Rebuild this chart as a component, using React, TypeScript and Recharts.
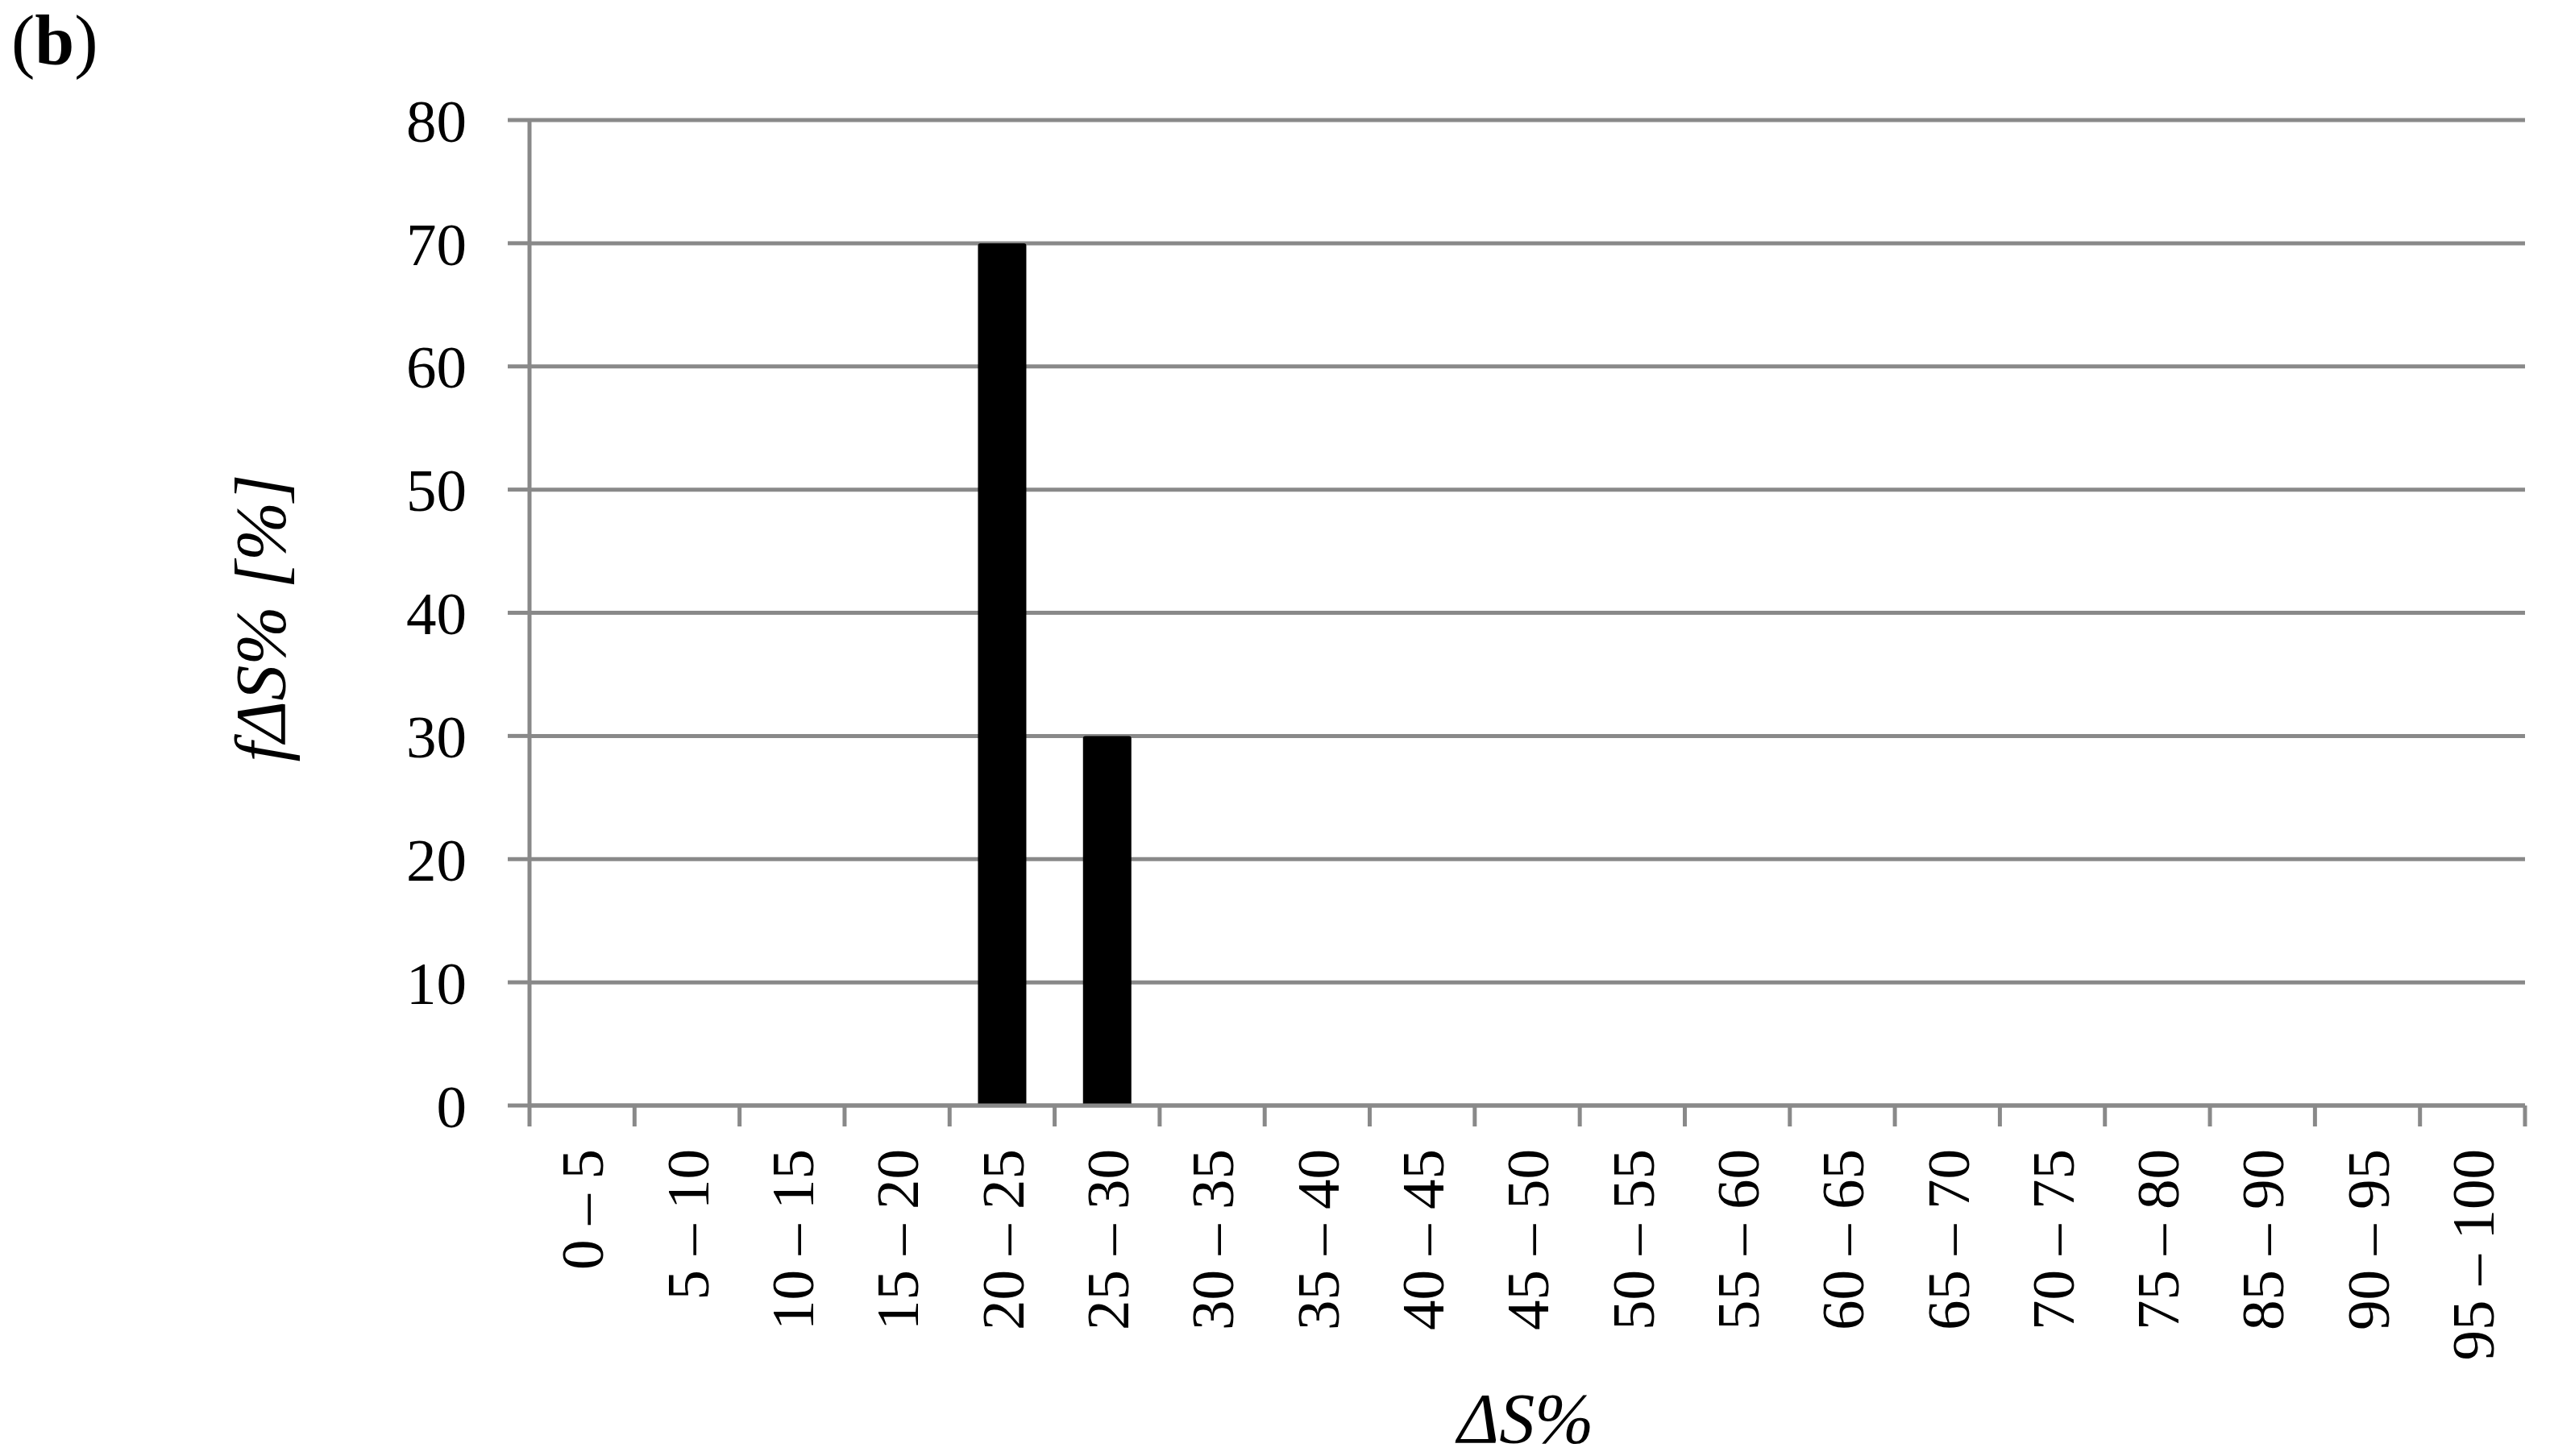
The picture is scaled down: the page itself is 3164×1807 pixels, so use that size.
import React from 'react';
import { BarChart, Bar, XAxis, YAxis, CartesianGrid } from 'recharts';

const categories = [
  '0 – 5', '5 – 10', '10 – 15', '15 – 20', '20 – 25', '25 – 30', '30 – 35',
  '35 – 40', '40 – 45', '45 – 50', '50 – 55', '55 – 60', '60 – 65', '65 – 70',
  '70 – 75', '75 – 80', '85 – 90', '90 – 95', '95 – 100',
];
const frequencies = [0, 0, 0, 0, 70, 30, 0, 0, 0, 0, 0, 0, 0, 0, 0, 0, 0, 0, 0];
const yTicks = [0, 10, 20, 30, 40, 50, 60, 70, 80];

const data = categories.map((c, i) => ({ range: c, f: frequencies[i] }));

const W = 3164;
const H = 1807;
const LEFT = 657;
const RIGHT_MARGIN = 31;
const FONT = '"Liberation Serif", "Times New Roman", serif';
const GRAY = '#898989';
const X_TICK_SIZE = 26;
const X_TICK_MARGIN = 28;

const XTick = (props: any) => {
  const { x, y, payload, index, visibleTicksCount } = props;
  const count = visibleTicksCount || categories.length;
  const half =
    payload && typeof payload.offset === 'number' && payload.offset > 0
      ? payload.offset
      : (W - LEFT - RIGHT_MARGIN) / count / 2;
  const axisY = y - X_TICK_SIZE - X_TICK_MARGIN;
  const isLast = index === count - 1;
  return (
    <g>
      <line x1={x - half} x2={x - half} y1={axisY} y2={axisY + X_TICK_SIZE} stroke={GRAY} strokeWidth={5} />
      {isLast && (
        <line x1={x + half} x2={x + half} y1={axisY} y2={axisY + X_TICK_SIZE} stroke={GRAY} strokeWidth={5} />
      )}
      <text
        x={x}
        y={y}
        transform={`rotate(-90, ${x}, ${y})`}
        textAnchor="end"
        dy="0.35em"
        fontSize={75}
        fontFamily={FONT}
        fill="#000"
      >
        {payload.value}
      </text>
    </g>
  );
};

export default function App() {
  return (
    <div style={{ position: 'absolute', left: 0, top: 0, width: W, height: H, background: '#fff' }}>
      <BarChart
        width={W}
        height={H}
        data={data}
        margin={{ top: 149, right: RIGHT_MARGIN, bottom: 0, left: 0 }}
        barCategoryGap="27%"
      >
        <CartesianGrid horizontal vertical={false} stroke={GRAY} strokeWidth={5} />
        <XAxis
          dataKey="range"
          interval={0}
          height={435}
          tick={<XTick />}
          tickLine={false}
          axisLine={{ stroke: GRAY, strokeWidth: 5 }}
          tickSize={X_TICK_SIZE}
          tickMargin={X_TICK_MARGIN}
        />
        <YAxis
          width={LEFT}
          domain={[0, 80]}
          ticks={yTicks}
          interval={0}
          axisLine={{ stroke: GRAY, strokeWidth: 5 }}
          tickLine={{ stroke: GRAY, strokeWidth: 5 }}
          tickSize={27}
          tickMargin={51}
          tick={{ fontSize: 75, fontFamily: FONT, fill: '#000' }}
        />
        <Bar dataKey="f" fill="#000" isAnimationActive={false} radius={[3, 3, 0, 0]} />
      </BarChart>
      <svg
        width={W}
        height={H}
        style={{ position: 'absolute', left: 0, top: 0, pointerEvents: 'none' }}
      >
        <text x={14} y={80} fontSize={88} fontFamily={FONT} fill="#000">
          (<tspan fontWeight="bold">b</tspan>)
        </text>
        <text
          x={323}
          y={767}
          transform="rotate(-90, 323, 767)"
          textAnchor="middle"
          dominantBaseline="central"
          fontSize={88}
          fontStyle="italic"
          fontFamily={FONT}
          fill="#000"
        >
          fΔS% [%]
        </text>
        <text
          x={1893}
          y={1760}
          textAnchor="middle"
          dominantBaseline="central"
          fontSize={88}
          fontStyle="italic"
          fontFamily={FONT}
          fill="#000"
        >
          ΔS%
        </text>
      </svg>
    </div>
  );
}
